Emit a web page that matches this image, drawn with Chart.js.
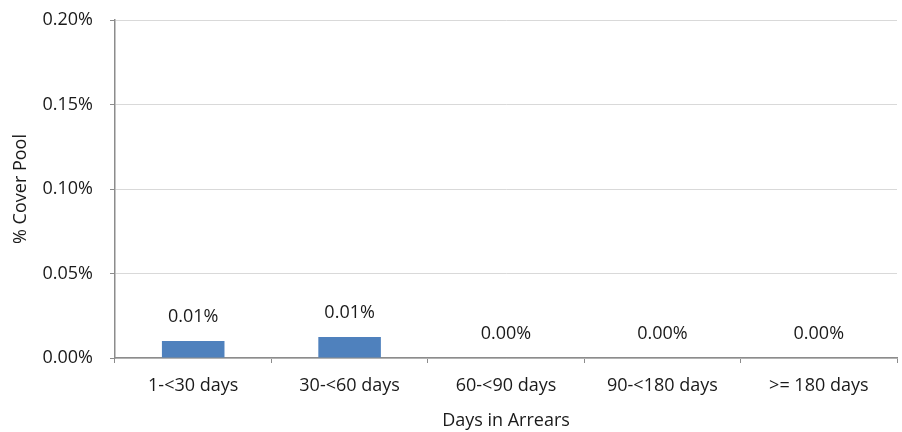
<!DOCTYPE html>
<html>
<head>
<meta charset="utf-8">
<script src="https://cdn.jsdelivr.net/npm/chart.js@4.4.1/dist/chart.umd.min.js"></script>
<style>
  html, body { margin: 0; padding: 0; background: #fff; }
  #wrap { width: 902px; height: 432px; }
</style>
</head>
<body>
<div id="wrap"><canvas id="arrearsChart"></canvas></div>
<script>
  const categories = ['1-<30 days', '30-<60 days', '60-<90 days', '90-<180 days', '>= 180 days'];
  const coverPoolPct = [0.0100, 0.0124, 0, 0, 0];
  const yTicks = [0, 0.05, 0.10, 0.15, 0.20];

  const FONT = '"Open Sans", sans-serif';
  const TEXT = '#1a1a1a';
  const AXIS = '#8c8c8c';

  // draw value labels above each bar
  const barLabels = {
    id: 'barLabels',
    afterDatasetsDraw(chart) {
      const ctx = chart.ctx;
      const meta = chart.getDatasetMeta(0);
      ctx.save();
      ctx.font = '18px ' + FONT;
      ctx.fillStyle = TEXT;
      ctx.textAlign = 'center';
      ctx.textBaseline = 'middle';
      meta.data.forEach((bar, i) => {
        ctx.fillText(coverPoolPct[i].toFixed(2) + '%', bar.x, bar.y - 24);
      });
      ctx.restore();
    }
  };

  new Chart(document.getElementById('arrearsChart'), {
    type: 'bar',
    data: {
      labels: categories,
      datasets: [{
        data: coverPoolPct,
        backgroundColor: '#4f81bd',
        barPercentage: 0.4,
        categoryPercentage: 1
      }]
    },
    options: {
      responsive: true,
      maintainAspectRatio: false,
      animation: false,
      layout: { padding: { top: 20, right: 5, left: 0, bottom: 0 } },
      plugins: { legend: { display: false }, tooltip: { enabled: false } },
      scales: {
        x: {
          grid: { offset: true, drawOnChartArea: false, tickLength: 5, tickColor: AXIS },
          border: { color: AXIS, width: 1.5 },
          ticks: { color: TEXT, font: { family: FONT, size: 18 }, padding: 12, maxRotation: 0 },
          title: { display: true, text: 'Days in Arrears', color: TEXT, font: { family: FONT, size: 18 }, padding: { top: 10, bottom: 0 } },
          afterFit: (s) => { s.height = 74; s.paddingLeft = 0; s.paddingRight = 0; }
        },
        y: {
          min: 0,
          max: 0.2,
          afterBuildTicks: (s) => { s.ticks = yTicks.map(v => ({ value: v })); },
          grid: { color: '#d9d9d9', tickLength: 5, tickColor: AXIS },
          border: { color: AXIS, width: 1.5 },
          ticks: { color: TEXT, font: { family: FONT, size: 18 }, padding: 17, callback: (v) => v.toFixed(2) + '%' },
          title: { display: true, text: '% Cover Pool', color: TEXT, font: { family: FONT, size: 18 }, padding: { top: 10, bottom: 0 } },
          afterFit: (s) => { s.width = 115; s.paddingTop = 0; s.paddingBottom = 0; }
        }
      }
    },
    plugins: [barLabels]
  });
</script>
</body>
</html>
